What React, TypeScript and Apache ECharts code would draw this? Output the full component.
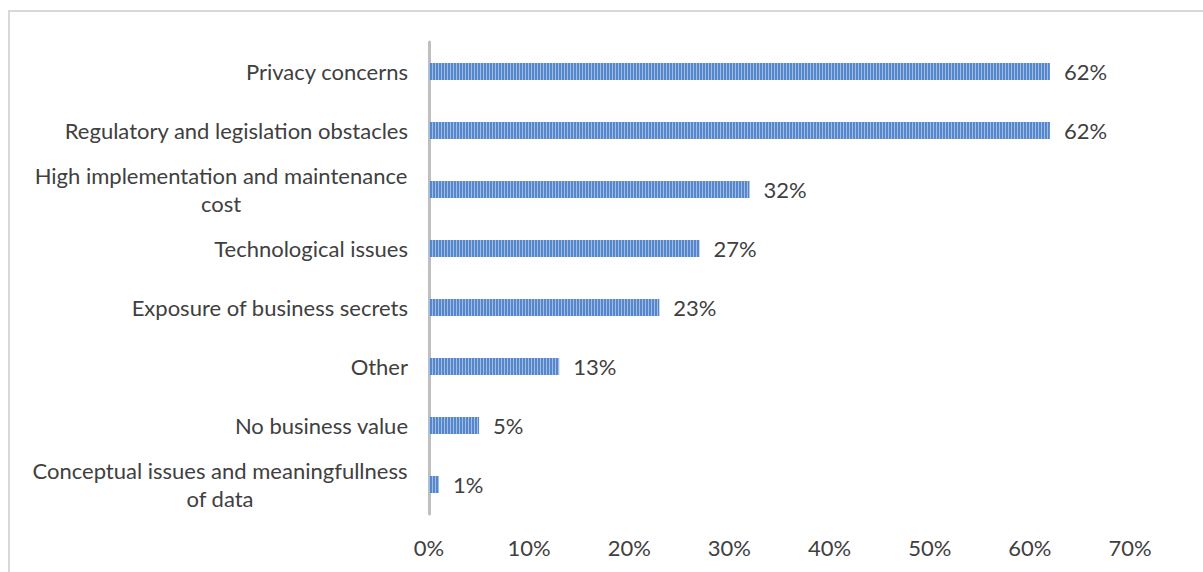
import React, { useEffect, useRef } from "react";
import * as echarts from "echarts";

const categories = [
  "Privacy concerns",
  "Regulatory and legislation obstacles",
  "High implementation and maintenance\ncost",
  "Technological issues",
  "Exposure of business secrets",
  "Other",
  "No business value",
  "Conceptual issues and meaningfullness\nof data",
];
const values = [62, 62, 32, 27, 23, 13, 5, 1];
const xTicks = { min: 0, max: 70, interval: 10 };

const FONT_FAMILY = "Lato";
const FONT_SIZE = 22;
const TEXT_COLOR = "#404040";

function measure(text: string): number {
  const c = document.createElement("canvas");
  const ctx = c.getContext("2d");
  if (!ctx) return text.length * 10;
  ctx.font = `${FONT_SIZE}px ${FONT_FAMILY}`;
  return ctx.measureText(text).width;
}

export default function App() {
  const ref = useRef<HTMLDivElement>(null);
  useEffect(() => {
    if (!ref.current) return;
    const chart = echarts.init(ref.current, null, { renderer: "svg" });
    const rich: Record<string, any> = {};
    categories.forEach((cat, i) => {
      if (cat.includes("\n")) {
        const w = Math.max(...cat.split("\n").map(measure));
        rich["w" + i] = {
          width: Math.ceil(w) + 1,
          align: "center",
          fontFamily: FONT_FAMILY,
          fontSize: FONT_SIZE,
          color: TEXT_COLOR,
          lineHeight: 28,
        };
      }
    });
    chart.setOption({
      animation: false,
      grid: { left: 429, right: 73, top: 42, bottom: 58, containLabel: false },
      xAxis: {
        type: "value",
        min: xTicks.min,
        max: xTicks.max,
        interval: xTicks.interval,
        axisLine: { show: false },
        axisTick: { show: false },
        splitLine: { show: false },
        axisLabel: {
          formatter: "{value}%",
          fontFamily: FONT_FAMILY,
          fontSize: FONT_SIZE,
          color: TEXT_COLOR,
          margin: 22,
        },
      },
      yAxis: {
        type: "category",
        data: categories,
        inverse: true,
        axisLine: { show: true, lineStyle: { color: "#bfbfbf", width: 3 } },
        axisTick: { show: false },
        splitLine: { show: false },
        axisLabel: {
          fontFamily: FONT_FAMILY,
          fontSize: FONT_SIZE,
          color: TEXT_COLOR,
          margin: 21,
          lineHeight: 28,
          rich,
          formatter: (v: string) => {
            const i = categories.indexOf(v);
            if (v.includes("\n")) {
              return v
                .split("\n")
                .map((l) => `{w${i}|${l}}`)
                .join("\n");
            }
            return v;
          },
        },
      },
      series: [
        {
          type: "bar",
          data: values,
          barWidth: 17,
          itemStyle: {
            color: "#5686cb",
            decal: {
              symbol: "rect",
              symbolSize: 1,
              color: "rgba(255,255,255,0.45)",
              dashArrayX: [1, 2],
              dashArrayY: [4, 0],
              rotation: 0,
            },
          },
          label: {
            show: true,
            position: "right",
            distance: 14,
            formatter: "{c}%",
            fontFamily: FONT_FAMILY,
            fontSize: FONT_SIZE,
            color: TEXT_COLOR,
          },
        },
      ],
    });
    return () => chart.dispose();
  }, []);
  return (
    <div style={{ position: "fixed", left: 0, top: 0, width: 1203, height: 572, overflow: "hidden", background: "#fff" }}>
      <div
        style={{
          position: "absolute",
          left: 8,
          top: 10,
          width: 1195,
          height: 562,
          borderTop: "2px solid #d9d9d9",
          borderLeft: "2px solid #d9d9d9",
          boxSizing: "border-box",
        }}
      />
      <div ref={ref} style={{ position: "absolute", left: 0, top: 0, width: 1203, height: 572 }} />
    </div>
  );
}
